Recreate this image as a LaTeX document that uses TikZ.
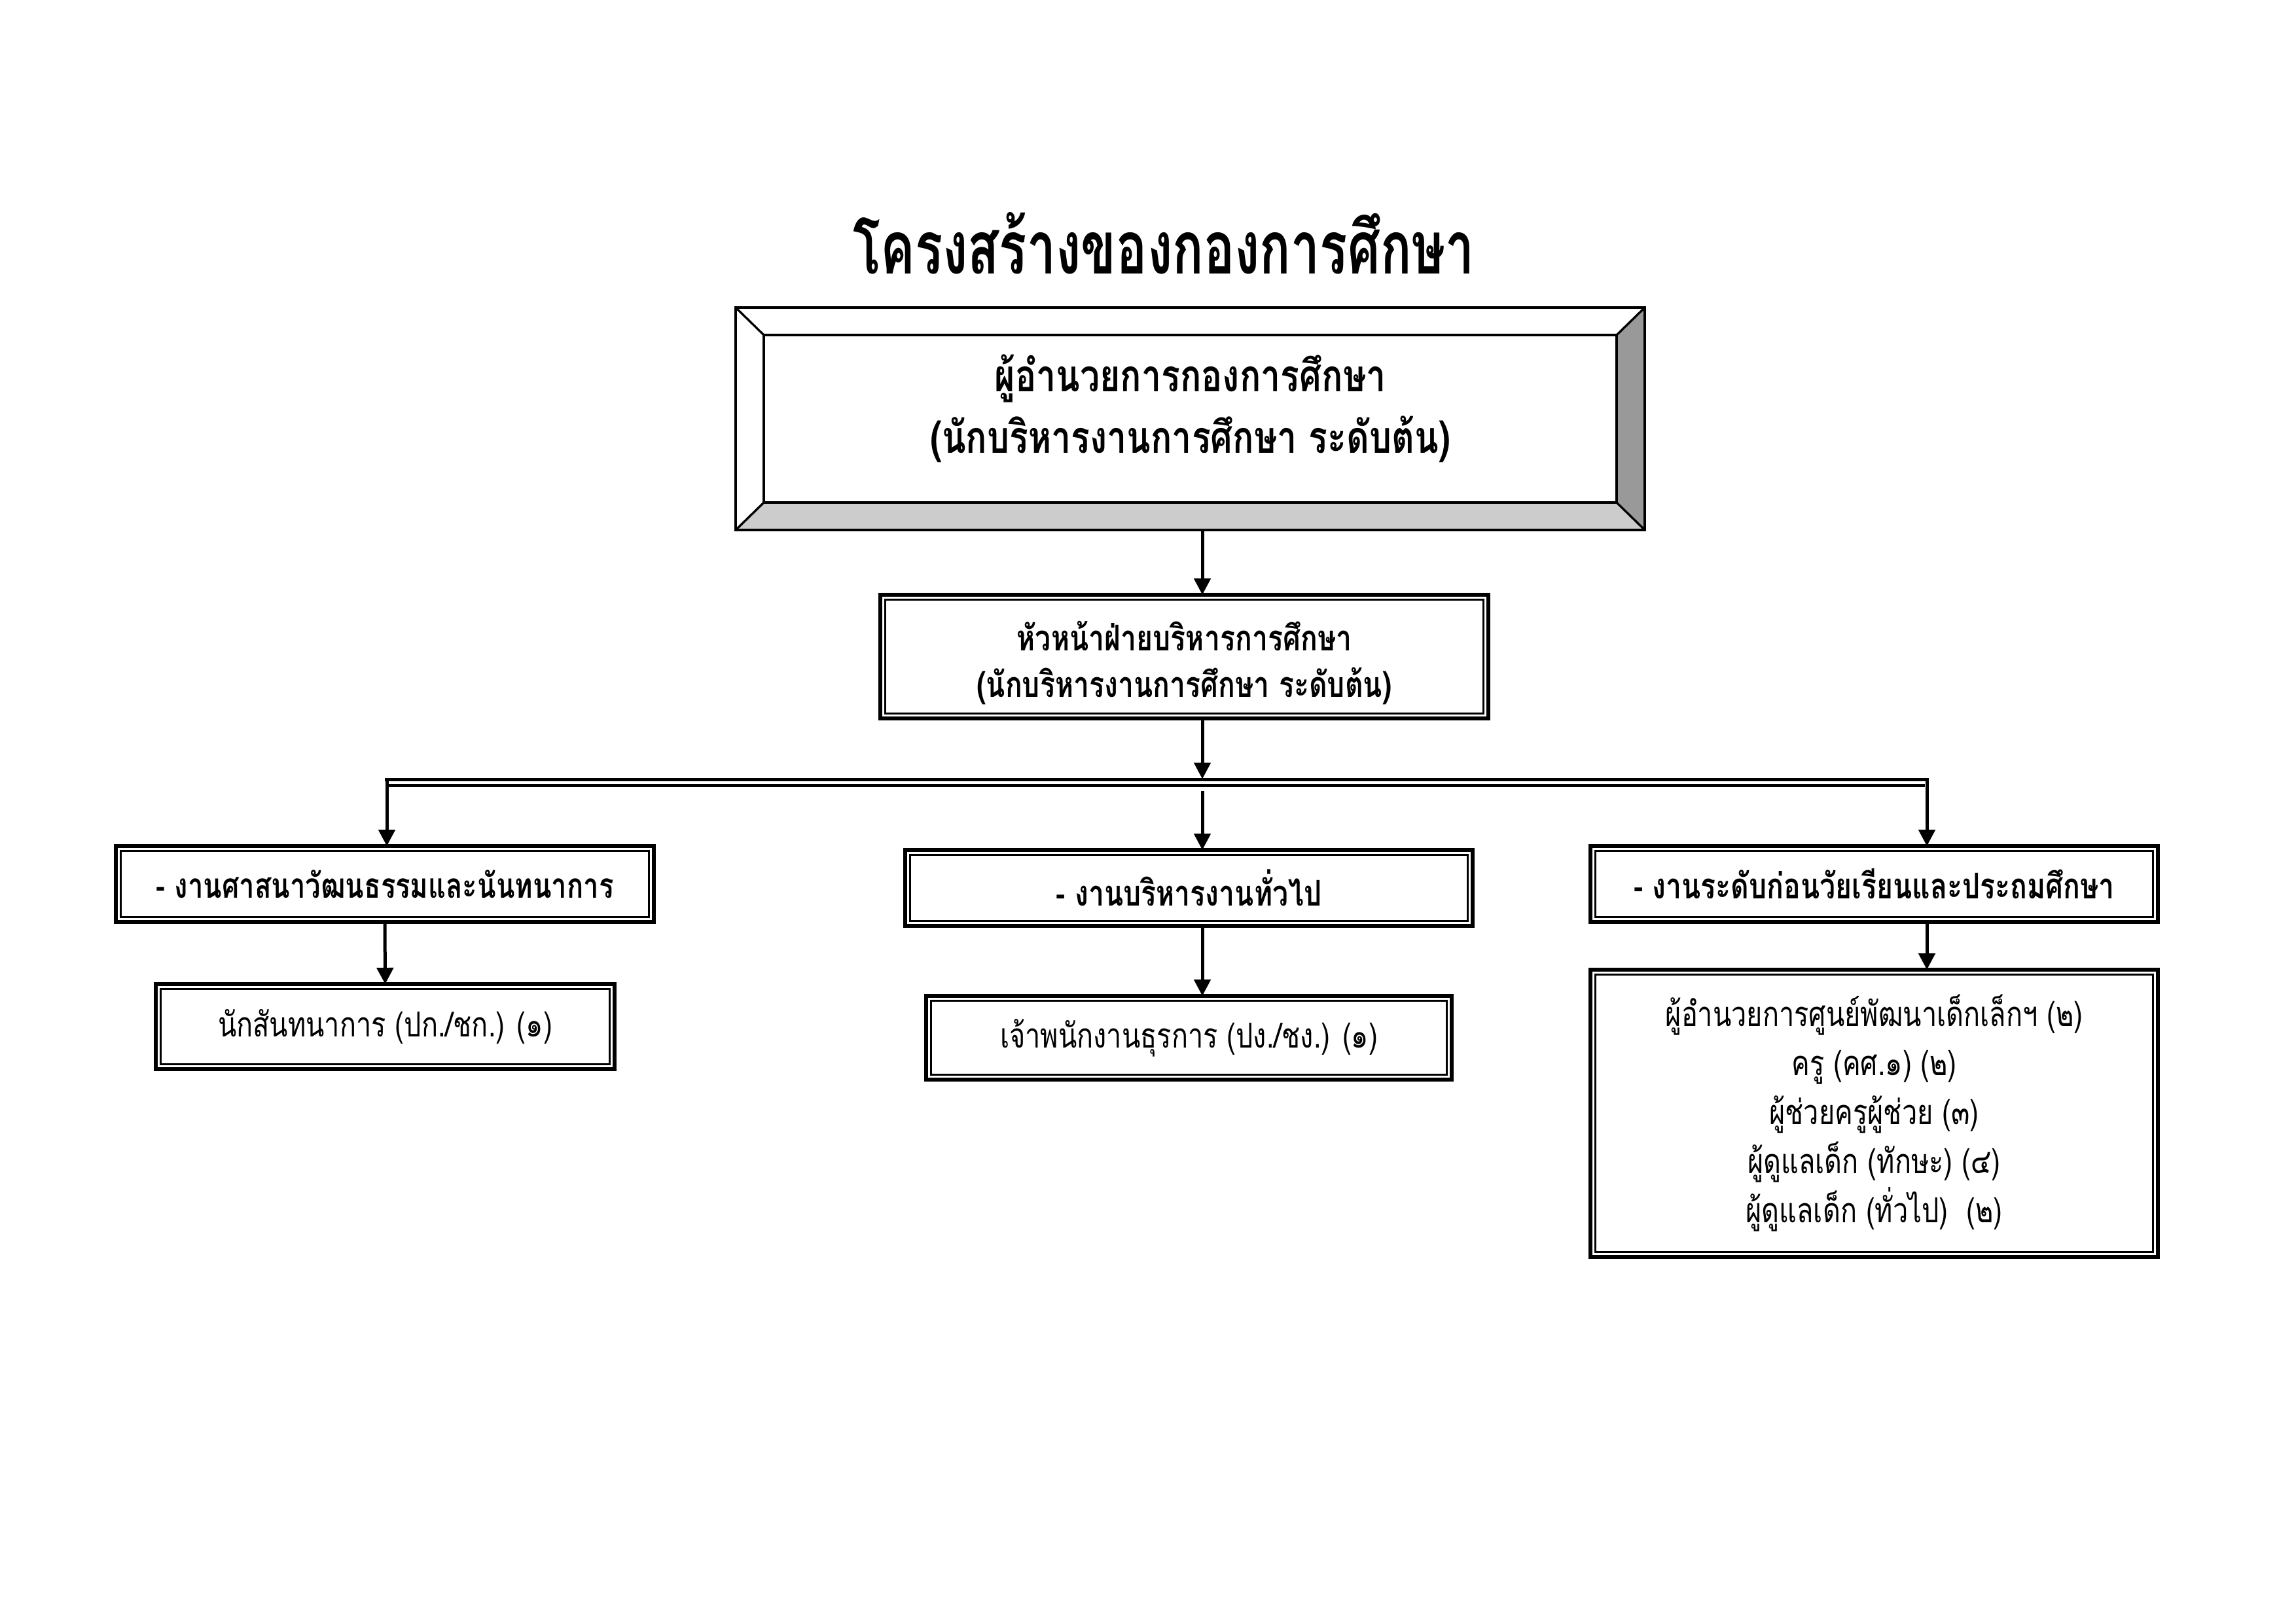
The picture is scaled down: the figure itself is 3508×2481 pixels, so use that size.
\documentclass[tikz,border=0pt]{standalone}
\usepackage{fontspec}
\setmainfont[Script=Thai]{Loma}
\newfontfamily\thaif[Script=Thai,FakeStretch=0.79]{Loma}
\newfontfamily\thait[Script=Thai,FakeStretch=0.70]{Loma}
\usetikzlibrary{arrows.meta}
\tikzset{
 dbox/.style={draw, line width=1.44pt, inner sep=0pt, outer sep=0pt, align=center},
 arr/.style={line width=1.2pt, -{Triangle[length=6pt,width=6pt]}},
 hline/.style={line width=1.1pt},
 bevel/.style={line width=0.8pt, line join=miter},
 hdr/.style={font=\thaif\bfseries\fontsize{13}{18}\selectfont},
 leaf/.style={font=\thaif\fontsize{12.6}{18}\selectfont},
}
\newcommand\mkbox[7][]{%
 \node[dbox,#1,minimum width={(#5-#3-6)*0.24pt},minimum height={(#6-#4-6)*0.24pt}] (#2) at ({(#3+#5)/2},{(#4+#6)/2}) {#7};
 \draw[line width=0.72pt] ([shift={(7.5,7.5)}]#2.north west) rectangle ([shift={(-7.5,-7.5)}]#2.south east);
}
\begin{document}
\begin{tikzpicture}[x=0.24pt,y=-0.24pt]
\fill[white] (0,0) rectangle (3508,2481);
\useasboundingbox (0,0) rectangle (3508,2481);

\node[font=\thait\bfseries\fontsize{27}{34}\selectfont, anchor=base] (title) at (1778,418) {โครงสร้างของกองการศึกษา};

% top bevelled box (outer 1124..2513 x 470..810)
\node[inner sep=0pt, outer sep=0pt, minimum width={1389*0.24pt}, minimum height={372*0.24pt}, align=center, font=\thaif\bfseries\fontsize{16.3}{22.5}\selectfont] (top) at (1818.5,624) {ผู้อำนวยการกองการศึกษา\\(นักบริหารงานการศึกษา ระดับต้น)};
\coordinate (to1) at (1124,470);
\coordinate (to2) at (2513,470);
\coordinate (to3) at (2513,810);
\coordinate (to4) at (1124,810);
\coordinate (ti1) at (1167,512);
\coordinate (ti2) at (2470,512);
\coordinate (ti3) at (2470,768);
\coordinate (ti4) at (1167,768);
\fill[black!20] (to4) -- (to3) -- (ti3) -- (ti4) -- cycle;
\fill[black!40] (to2) -- (to3) -- (ti3) -- (ti2) -- cycle;
\draw[bevel] (to1) rectangle (to3);
\draw[bevel] (ti1) rectangle (ti3);
\draw[bevel] (to1) -- (ti1) (to2) -- (ti2) (to3) -- (ti3) (to4) -- (ti4);

% second level
\mkbox[font=\thaif\bfseries\fontsize{13}{17.2}\selectfont]{mid}{1342}{906}{2277}{1101}{\rule{0pt}{15.5pt}หัวหน้าฝ่ายบริหารการศึกษา\\(นักบริหารงานการศึกษา ระดับต้น)}

% third level
\mkbox[font=\thaif\bfseries\fontsize{12.7}{18}\selectfont]{l1}{174}{1290}{1002}{1412}{- งานศาสนาวัฒนธรรมและนันทนาการ}
\mkbox[hdr]{m1}{1380}{1296}{2253}{1418}{- งานบริหารงานทั่วไป}
\mkbox[hdr]{r1}{2427}{1290}{3300}{1412}{- งานระดับก่อนวัยเรียนและประถมศึกษา}

% leaves
\mkbox[leaf]{l2}{235}{1501}{942}{1637}{นักสันทนาการ (ปก./ชก.) (๑)}
\mkbox[leaf]{m2}{1412}{1519}{2221}{1653}{เจ้าพนักงานธุรการ (ปง./ชง.) (๑)}
\mkbox[leaf]{r2}{2427}{1479}{3300}{1924}{ผู้อำนวยการศูนย์พัฒนาเด็กเล็กฯ (๒)\\ครู (คศ.๑) (๒)\\ผู้ช่วยครูผู้ช่วย (๓)\\ผู้ดูแลเด็ก (ทักษะ) (๔)\\ผู้ดูแลเด็ก (ทั่วไป)\ \ (๒)}

% connectors
\coordinate (jl) at (591,1191.5);
\coordinate (jm) at (1837,1191.5);
\coordinate (jr) at (2944,1191.5);
\draw[arr] (jm |- top.south) -- (jm |- mid.north);
\draw[arr] (jm |- mid.south) -- ([shift={(0,-1)}]jm);
\draw[hline] ([shift={(-3,0)}]jl) -- ([shift={(3,0)}]jr);
\draw[hline] ([shift={(3,9)}]jl) -- ([shift={(-3,9)}]jr);
\draw[arr] (jl) -- (jl |- l1.north);
\draw[arr] (jr) -- (jr |- r1.north);
\draw[arr] ([shift={(0,17)}]jm) -- (jm |- m1.north);
\draw[arr] (l1.south) -- (l2.north);
\draw[arr] (jm |- m1.south) -- (jm |- m2.north);
\draw[arr] (jr |- r1.south) -- (jr |- r2.north);
\end{tikzpicture}
\end{document}
